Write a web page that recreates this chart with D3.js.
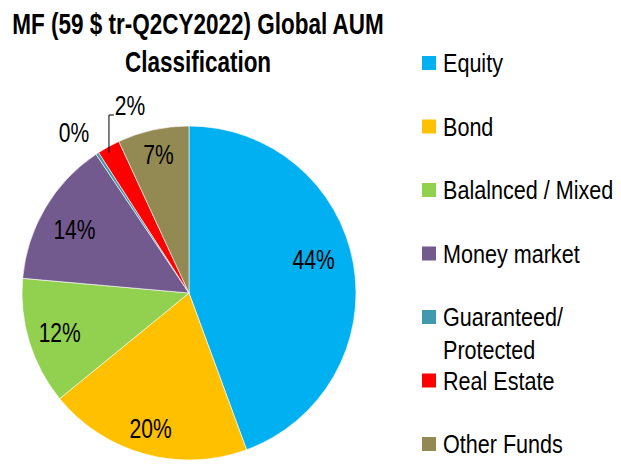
<!DOCTYPE html>
<html><head><meta charset="utf-8">
<script src="https://cdn.jsdelivr.net/npm/d3@7/dist/d3.min.js"></script>
<style>
body{margin:0;background:#fff;}
text{font-family:"Liberation Sans",Arial,sans-serif;}
</style></head><body>
<svg id="c" width="621" height="464"></svg>
<script>
const categories = ["Equity","Bond","Balalnced / Mixed","Money market","Guaranteed/ Protected","Real Estate","Other Funds"];
const values = [44.4, 19.7, 12.3, 14.2, 0.3, 2.2, 6.9];
const valueLabels = ["44%","20%","12%","14%","0%","2%","7%"];
const colors = ["#00B0F0","#FFC000","#92D050","#725A8F","#4298AF","#FF0000","#938953"];
const titleLines = ["MF (59 $ tr-Q2CY2022) Global AUM", "Classification"];

const svg = d3.select("#c");
const cx = 189, cy = 293, r = 167;
const NARROW = 0.8;

function ntext(sel, x, y, str, size, opts = {}) {
  return sel.append("text")
    .attr("transform", `translate(${x},${y}) scale(${opts.sx || NARROW},1)`)
    .attr("text-anchor", opts.anchor || "start")
    .attr("dy", opts.dy || null)
    .attr("font-size", size)
    .attr("font-weight", opts.bold ? "bold" : null)
    .attr("fill", "#000")
    .text(str);
}

const pie = d3.pie().sort(null).value(d => d)(values);
const arc = d3.arc().innerRadius(0).outerRadius(r);
const g = svg.append("g").attr("transform", `translate(${cx},${cy})`);
g.selectAll("path").data(pie).join("path")
  .attr("d", arc)
  .attr("fill", (d,i) => colors[i])
  .attr("stroke", "#fff").attr("stroke-width", 0.6);

// label radii (fraction of r) per slice, and small offsets
const labelR = [0.77, 0.85, 0.81, 0.79, 1.2, 1.2, 0.85];
const labelShift = [[-2,-11],[-1,-2],[0,0],[-1,3],[0,0],[0,0],[0,0]];
const labelG = g.append("g");
pie.forEach((d,i) => {
  const a = (d.startAngle + d.endAngle)/2;
  let x = Math.sin(a)*r*labelR[i] + labelShift[i][0], y = -Math.cos(a)*r*labelR[i] + labelShift[i][1];
  if (i === 5) { // leader label
    const ax = Math.sin(a)*r*0.97 - 2, ay = -Math.cos(a)*r*0.96;
    const lx = ax, ly = -r - 11;
    labelG.append("path").attr("d", `M${ax},${ay}L${lx},${ly}L${lx+5},${ly}`)
      .attr("fill","none").attr("stroke","#000").attr("stroke-width",1);
    x = lx + 21; y = ly - 10;
  }
  if (i === 4) { x = -115; y = -161; }
  ntext(labelG, x, y, valueLabels[i], 27, {anchor: "middle", dy: "0.36em", sx: 0.78});
});

// title
ntext(svg, 198, 34, titleLines[0], 30, {anchor: "middle", bold: true, sx: 0.75});
ntext(svg, 198, 72, titleLines[1], 30, {anchor: "middle", bold: true, sx: 0.75});

// legend
const legY = d3.scalePoint().domain(categories).range([63, 444]);
const leg = svg.append("g");
categories.forEach((c,i) => {
  const y = legY(c);
  leg.append("rect").attr("x",422).attr("y",y-7).attr("width",14).attr("height",14).attr("fill",colors[i]);
  const parts = c === "Guaranteed/ Protected" ? ["Guaranteed/","Protected"] : [c];
  parts.forEach((p,j) => {
    ntext(leg, 443, y + 9 + j*33, p, 26, {sx: 0.83});
  });
});
</script>
</body></html>
